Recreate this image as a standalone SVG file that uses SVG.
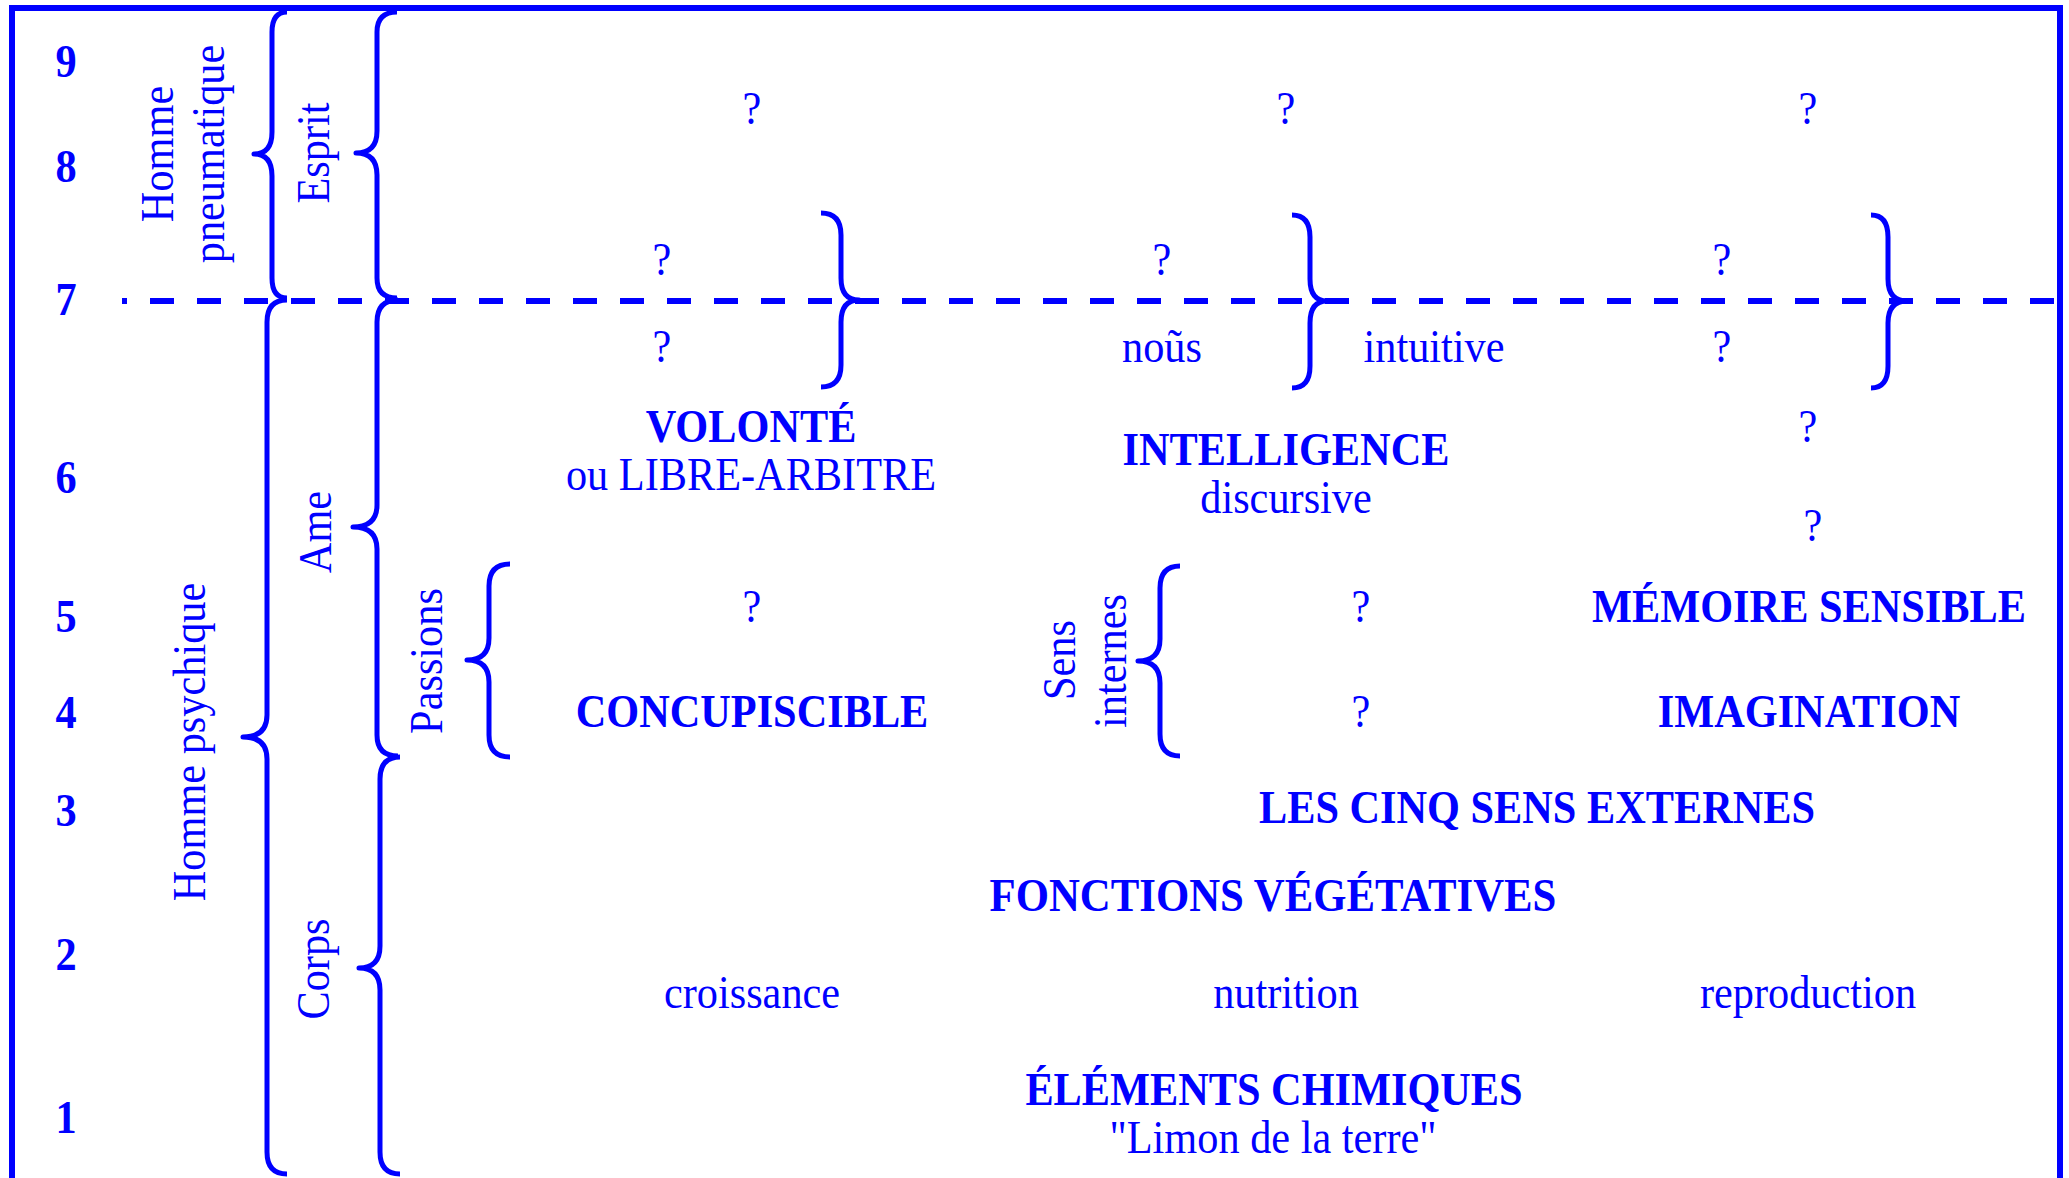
<svg xmlns="http://www.w3.org/2000/svg" width="2069" height="1178" viewBox="0 0 2069 1178">
<style>
text{font-family:"Liberation Serif","Times New Roman",serif;fill:#0000FF;font-size:46px;text-anchor:middle}
.b{font-weight:bold}
.br{fill:none;stroke:#0000FF;stroke-width:5;stroke-linecap:butt;stroke-linejoin:round}
.frame{fill:none;stroke:#0000FF;stroke-width:6}
.dash{stroke:#0000FF;stroke-width:6;stroke-dasharray:24 23;stroke-dashoffset:19}
</style>
<rect width="2069" height="1178" fill="#FFFFFF"/>
<path class="frame" d="M12,1182 V8 H2060 V1182"/>
<g id="connectors">
<line class="dash" x1="122" y1="301" x2="2060" y2="301"/>
</g>
<g id="braces">
<path id="brace-pneumatique" class="br" d="M287,12 Q272,12 272,32 V132 Q272,154 254,154 Q272,154 272,176 V278 Q272,298 287,298"/>
<path id="brace-esprit" class="br" d="M397,12 Q377,12 377,32 V131 Q377,153 356,153 Q377,153 377,175 V278 Q377,298 397,298"/>
<path id="brace-psychique" class="br" d="M287,300 Q267,300 267,322 V715 Q267,737 243,737 Q267,737 267,759 V1152 Q267,1174 287,1174"/>
<path id="brace-ame" class="br" d="M398,300 Q377,300 377,322 V505 Q377,527 353,527 Q377,527 377,549 V735 Q377,756 398,756"/>
<path id="brace-corps" class="br" d="M400,757 Q380,757 380,779 V946 Q380,968 359,968 Q380,968 380,990 V1152 Q380,1174 400,1174"/>
<path id="brace-passions" class="br" d="M510,564 Q489,564 489,586 V638 Q489,660 467,660 Q489,660 489,682 V735 Q489,757 510,757"/>
<path id="brace-sens" class="br" d="M1180,566 Q1160,566 1160,588 V639 Q1160,661 1138,661 Q1160,661 1160,683 V734 Q1160,756 1180,756"/>
<path id="brace-c1" class="br" d="M821,213 Q841,213 841,235 V278 Q841,300 859,300 Q841,300 841,322 V365 Q841,387 821,387"/>
<path id="brace-c2" class="br" d="M1292,215 Q1310,215 1310,237 V279 Q1310,301 1327,301 Q1310,301 1310,323 V366 Q1310,388 1292,388"/>
<path id="brace-c3" class="br" d="M1871,215 Q1888,215 1888,237 V279 Q1888,301 1907,301 Q1888,301 1888,323 V366 Q1888,388 1871,388"/>
</g>
<g id="levels">
<text class="b" transform="translate(66,77) scale(0.92,1)">9</text>
<text class="b" transform="translate(66,182) scale(0.92,1)">8</text>
<text class="b" transform="translate(66,315) scale(0.92,1)">7</text>
<text class="b" transform="translate(66,493) scale(0.92,1)">6</text>
<text class="b" transform="translate(66,632) scale(0.92,1)">5</text>
<text class="b" transform="translate(66,728) scale(0.92,1)">4</text>
<text class="b" transform="translate(66,826) scale(0.92,1)">3</text>
<text class="b" transform="translate(66,970) scale(0.92,1)">2</text>
<text class="b" transform="translate(66,1133) scale(0.92,1)">1</text>
</g>
<g id="homme-pneumatique">
<text transform="translate(173,154) rotate(-90) scale(0.92,1)">Homme</text>
<text transform="translate(224,154) rotate(-90) scale(0.92,1)">pneumatique</text>
</g>
<g id="homme-psychique">
<text transform="translate(205,742) rotate(-90) scale(0.92,1)">Homme psychique</text>
</g>
<g id="esprit"><text transform="translate(329,153) rotate(-90) scale(0.92,1)">Esprit</text></g>
<g id="ame"><text transform="translate(331,532) rotate(-90) scale(0.92,1)">Ame</text></g>
<g id="corps"><text transform="translate(329,969) rotate(-90) scale(0.92,1)">Corps</text></g>
<g id="passions"><text transform="translate(442,661) rotate(-90) scale(0.92,1)">Passions</text></g>
<g id="sens-internes">
<text transform="translate(1075,660) rotate(-90) scale(0.92,1)">Sens</text>
<text transform="translate(1126,661) rotate(-90) scale(0.92,1)">internes</text>
</g>
<g id="row9">
<text transform="translate(752,124) scale(0.92,1)">?</text>
<text transform="translate(1286,124) scale(0.92,1)">?</text>
<text transform="translate(1808,124) scale(0.92,1)">?</text>
</g>
<g id="row7-upper">
<text transform="translate(662,275) scale(0.92,1)">?</text>
<text transform="translate(1162,275) scale(0.92,1)">?</text>
<text transform="translate(1722,275) scale(0.92,1)">?</text>
</g>
<g id="row7-lower">
<text transform="translate(662,362) scale(0.92,1)">?</text>
<text transform="translate(1162,362) scale(0.92,1)">noũs</text>
<text transform="translate(1434,362) scale(0.92,1)">intuitive</text>
<text transform="translate(1722,362) scale(0.92,1)">?</text>
</g>
<g id="volonte">
<text class="b" transform="translate(751,442) scale(0.92,1)">VOLONTÉ</text>
<text transform="translate(751,490) scale(0.92,1)">ou LIBRE-ARBITRE</text>
</g>
<g id="intelligence">
<text class="b" transform="translate(1286,465) scale(0.92,1)">INTELLIGENCE</text>
<text transform="translate(1286,513) scale(0.92,1)">discursive</text>
</g>
<g id="row6-right">
<text transform="translate(1808,442) scale(0.92,1)">?</text>
<text transform="translate(1813,541) scale(0.92,1)">?</text>
</g>
<g id="row5">
<text transform="translate(752,622) scale(0.92,1)">?</text>
<text transform="translate(1361,622) scale(0.92,1)">?</text>
<text class="b" transform="translate(1809,622) scale(0.92,1)">MÉMOIRE SENSIBLE</text>
</g>
<g id="row4">
<text class="b" transform="translate(752,727) scale(0.92,1)">CONCUPISCIBLE</text>
<text transform="translate(1361,727) scale(0.92,1)">?</text>
<text class="b" transform="translate(1809,727) scale(0.92,1)">IMAGINATION</text>
</g>
<g id="sens-externes">
<text class="b" transform="translate(1537,823) scale(0.92,1)">LES CINQ SENS EXTERNES</text>
</g>
<g id="fonctions-vegetatives">
<text class="b" transform="translate(1273,911) scale(0.93,1)">FONCTIONS VÉGÉTATIVES</text>
</g>
<g id="row2">
<text transform="translate(752,1008) scale(0.92,1)">croissance</text>
<text transform="translate(1286,1008) scale(0.92,1)">nutrition</text>
<text transform="translate(1808,1008) scale(0.92,1)">reproduction</text>
</g>
<g id="elements-chimiques">
<text class="b" transform="translate(1274,1105) scale(0.92,1)">ÉLÉMENTS CHIMIQUES</text>
<text transform="translate(1273,1153) scale(0.92,1)">"Limon de la terre"</text>
</g>
</svg>
